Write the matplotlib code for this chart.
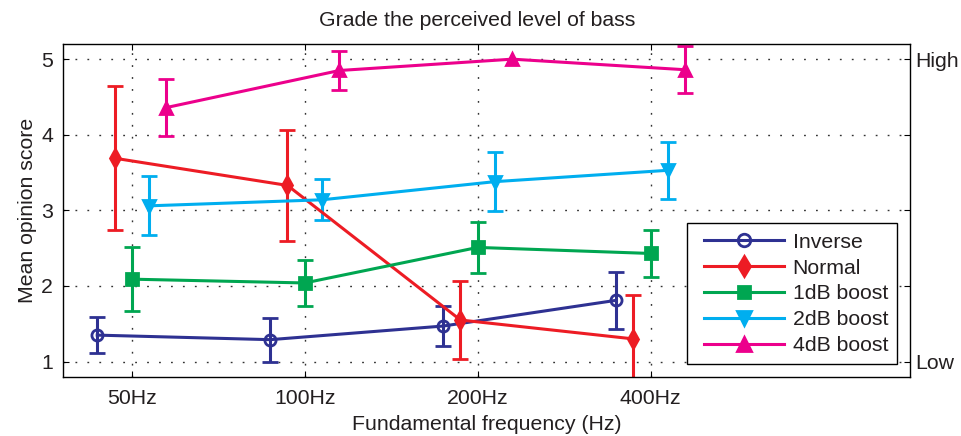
import numpy as np
import matplotlib
matplotlib.use("Agg")
import matplotlib.pyplot as plt
from matplotlib.lines import Line2D
from matplotlib.patches import Rectangle

plt.rcParams['font.family'] = ['Liberation Sans', 'DejaVu Sans']

categories = ['50Hz', '100Hz', '200Hz', '400Hz']
series_names = ['Inverse', 'Normal', '1dB boost', '2dB boost', '4dB boost']

inverse_mean = [1.35, 1.29, 1.47, 1.81]
inverse_err = [0.24, 0.29, 0.27, 0.38]
normal_mean = [3.69, 3.33, 1.55, 1.30]
normal_err = [0.95, 0.73, 0.52, 0.58]
boost1_mean = [2.09, 2.04, 2.51, 2.43]
boost1_err = [0.42, 0.31, 0.34, 0.31]
boost2_mean = [3.06, 3.14, 3.38, 3.53]
boost2_err = [0.39, 0.27, 0.39, 0.38]
boost4_mean = [4.36, 4.85, 5.00, 4.86]
boost4_err = [0.38, 0.26, np.nan, 0.31]

means = [inverse_mean, normal_mean, boost1_mean, boost2_mean, boost4_mean]
errs = [inverse_err, normal_err, boost1_err, boost2_err, boost4_err]

colors = ['#2E3192', '#ED1C24', '#00A651', '#00AEEF', '#EC008C']
markers = ['o', 'd', 's', 'v', '^']
offsets = [-0.2, -0.1, 0.0, 0.1, 0.2]

text_color = '#231F20'
fig = plt.figure(figsize=(9.61, 4.36), dpi=100)
ax = fig.add_axes([0.0652, 0.136, 0.8818, 0.763])

base = np.arange(1, len(categories) + 1)
handles = []
for name, m, e, c, mk, off in zip(series_names, means, errs, colors, markers, offsets):
    mfc = 'none' if mk == 'o' else c
    ms = 9 if mk in ('d', 'v', '^') else 8
    ax.errorbar(base + off, m, yerr=np.array(e), color=c, marker=mk,
                markersize=ms, linewidth=2.2, elinewidth=2.2, capsize=5.5,
                capthick=2.2, markeredgecolor=c, markerfacecolor=mfc,
                markeredgewidth=2.0)
    handles.append(Line2D([], [], color=c, marker=mk, markersize=ms + 1,
                          linewidth=2.2, markeredgecolor=c,
                          markerfacecolor=mfc, markeredgewidth=2.0, label=name))

ax.set_xlim(0.6, 5.5)
ax.set_ylim(0.8, 5.2)
ax.set_xticks(base)
ax.set_xticklabels(categories)
ax.set_yticks([1, 2, 3, 4, 5])

ax.grid(True, color='#333333', linewidth=1.0, linestyle=(0, (1.3, 7.3)))
ax.set_axisbelow(True)

fs = 15.3
ax.tick_params(axis='both', direction='in', length=4, width=0.8,
               top=True, right=True, labelsize=fs, pad=9, labelcolor=text_color)
ax.tick_params(axis='y', pad=7)
for sp in ax.spines.values():
    sp.set_linewidth(1.0)
    sp.set_color('black')

ax2 = ax.twinx()
ax2.set_ylim(ax.get_ylim())
ax2.set_yticks([1, 2, 3, 4, 5])
ax2.set_yticklabels(['Low', '', '', '', 'High'])
ax2.tick_params(axis='y', direction='in', length=4, width=0.8, labelsize=fs,
                pad=4, labelcolor=text_color)
for sp in ax2.spines.values():
    sp.set_visible(False)

ax.set_title('Grade the perceived level of bass', fontsize=fs, pad=13,
             color=text_color, x=0.489)
ax.set_xlabel('Fundamental frequency (Hz)', fontsize=fs, labelpad=5, color=text_color)
ax.set_ylabel('Mean opinion score', fontsize=fs, labelpad=3, color=text_color)

# legend frame box
box = Rectangle((0.7372, 0.0382), 0.9847 - 0.7372, 0.462 - 0.0382,
                transform=ax.transAxes, facecolor='white', edgecolor='black',
                linewidth=1.0, zorder=9)
ax.add_patch(box)

leg = ax.legend(handles=handles, loc='lower right', bbox_to_anchor=(0.9847, 0.0382),
                borderaxespad=0, fontsize=fs, frameon=False, handlelength=3.75,
                labelspacing=0.32, handletextpad=0.42, borderpad=0.42,
                labelcolor=text_color)
leg.set_zorder(10)

fig.savefig('out.png', dpi=100)
